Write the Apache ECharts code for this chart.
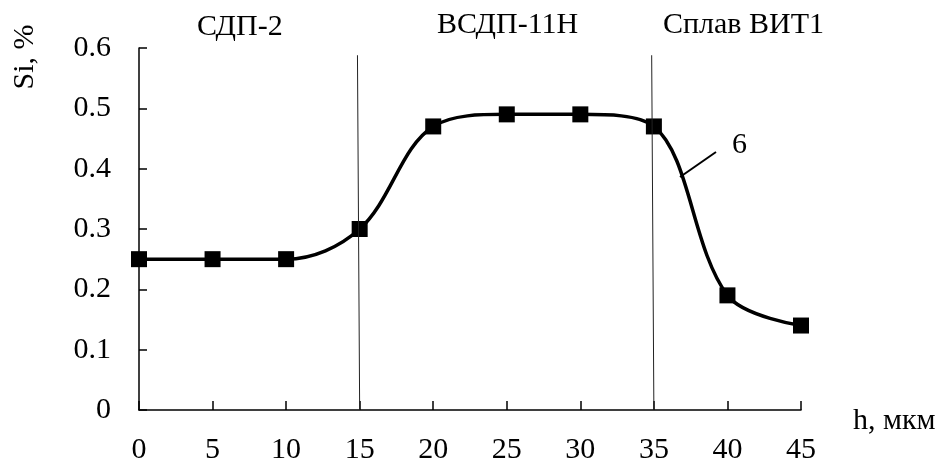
<!DOCTYPE html>
<html>
<head>
<meta charset="utf-8">
<script src="https://cdn.jsdelivr.net/npm/echarts@6/dist/echarts.min.js"></script>
<style>
  html, body { margin: 0; padding: 0; background: #fff; }
  #chart { width: 949px; height: 465px; }
</style>
</head>
<body>
<div id="chart"></div>
<script>
// толщина слоя, мкм
var depth = [0, 5, 10, 15, 20, 25, 30, 35, 40, 45];
// содержание Si, %
var siValues = [0.25, 0.25, 0.25, 0.30, 0.47, 0.49, 0.49, 0.47, 0.19, 0.14];
// границы слоёв
var boundaries = [15, 35];
var zoneNames = ['СДП-2', 'ВСДП-11Н', 'Сплав ВИТ1'];
var curveLabel = '6';

var FONT = 'Liberation Serif';
var FS = 30;

var chart = echarts.init(document.getElementById('chart'));

var seriesData = depth.map(function (d, i) { return [d, siValues[i]]; });

var option = {
  animation: false,
  grid: { left: 139, right: 148, top: 48, bottom: 55 },
  xAxis: {
    type: 'value',
    min: 0, max: 45, interval: 5,
    axisLine: { lineStyle: { color: '#000', width: 1.5 } },
    axisTick: { inside: true, length: 9, lineStyle: { color: '#000', width: 1.5 } },
    axisLabel: { color: '#000', fontFamily: FONT, fontSize: FS, margin: 25 },
    splitLine: { show: false }
  },
  yAxis: {
    type: 'value',
    min: 0, max: 0.6, interval: 0.1,
    axisLine: { show: true, lineStyle: { color: '#000', width: 1.5 } },
    axisTick: { show: true, inside: true, length: 8, lineStyle: { color: '#000', width: 1.5 } },
    axisLabel: {
      color: '#000', fontFamily: FONT, fontSize: FS, margin: 28,
      formatter: function (v) { return v === 0 ? '0' : v.toFixed(1); }
    },
    splitLine: { show: false }
  },
  series: [{
    type: 'line',
    data: seriesData,
    smooth: 0.35,
    symbol: 'rect',
    symbolSize: 16,
    itemStyle: { color: '#000' },
    lineStyle: { color: '#000', width: 3.5 },
    markLine: {
      silent: true,
      symbol: ['none', 'none'],
      label: { show: false },
      lineStyle: { color: '#222', width: 1, type: 'solid' },
      data: boundaries.map(function (b) {
        return [{ coord: [b - 0.15, 0.588] }, { coord: [b, 0] }];
      })
    },
    z: 3
  }],
  graphic: [
    { type: 'text', left: 197, top: 12, style: { text: zoneNames[0], font: FS + 'px "' + FONT + '"', fill: '#000' } },
    { type: 'text', left: 437, top: 10, style: { text: zoneNames[1], font: FS + 'px "' + FONT + '"', fill: '#000' } },
    { type: 'text', left: 663, top: 10, style: { text: zoneNames[2], font: FS + 'px "' + FONT + '"', fill: '#000' } },
    { type: 'text', x: 25, y: 57, rotation: Math.PI / 2,
      style: { text: 'Si, %', font: FS + 'px "' + FONT + '"', fill: '#000', align: 'center', verticalAlign: 'middle' } },
    { type: 'text', left: 853, top: 406, style: { text: 'h, мкм', font: FS + 'px "' + FONT + '"', fill: '#000' } },
    { type: 'line', shape: { x1: 680, y1: 177, x2: 716, y2: 152 }, style: { stroke: '#000', lineWidth: 2 } },
    { type: 'text', left: 732, top: 130, style: { text: curveLabel, font: FS + 'px "' + FONT + '"', fill: '#000' } }
  ]
};

chart.setOption(option);
</script>
</body>
</html>
